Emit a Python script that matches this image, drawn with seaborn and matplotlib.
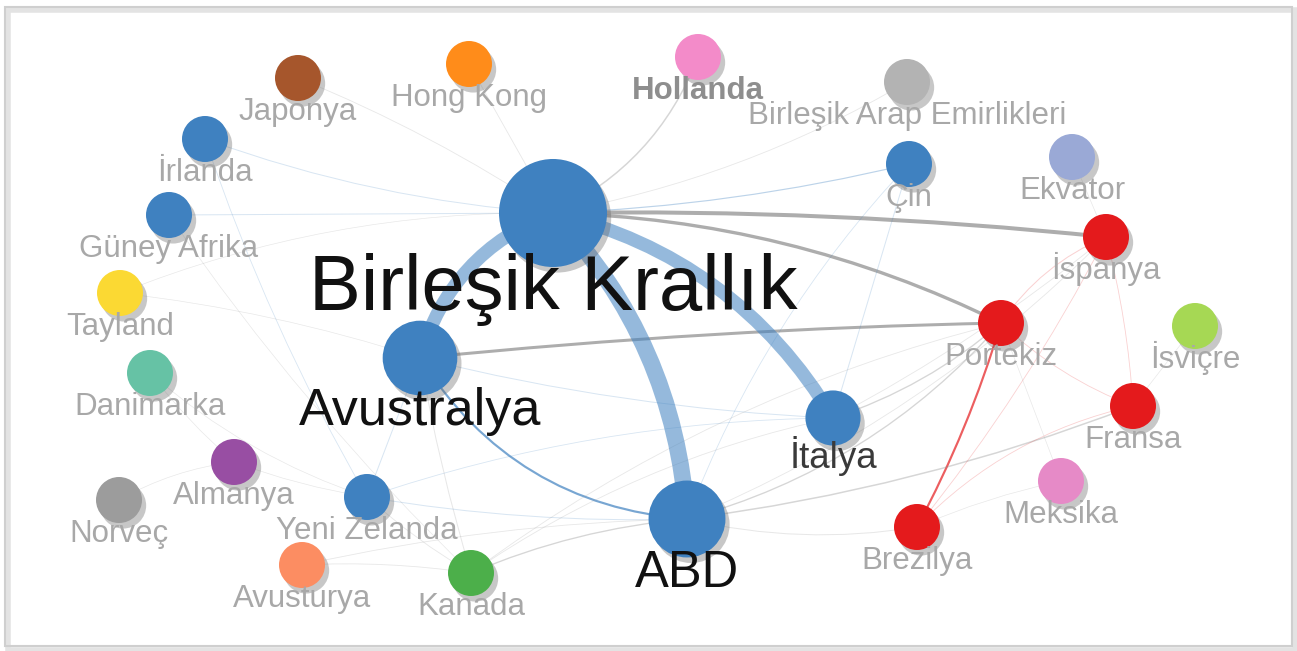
import matplotlib
matplotlib.use("Agg")
import matplotlib.pyplot as plt
import matplotlib.patheffects as pe
from matplotlib.patches import FancyArrowPatch, Rectangle
import numpy as np
import pandas as pd
import seaborn as sns

# ---------------- data ----------------
nodes = ["Birleşik Krallık", "Avustralya", "ABD", "İtalya", "Yeni Zelanda", "Kanada",
         "Avusturya", "Norveç", "Almanya", "Danimarka", "Tayland", "Güney Afrika",
         "İrlanda", "Japonya", "Hong Kong", "Hollanda", "Birleşik Arap Emirlikleri",
         "Çin", "Ekvator", "İspanya", "Portekiz", "İsviçre", "Fransa", "Meksika", "Brezilya"]
layout_x = [553, 420, 687, 833, 367, 471, 302, 119, 234, 150, 120, 169, 205, 298, 469,
            698, 907, 909, 1072, 1106, 1001, 1195, 1133, 1061, 917]
layout_y = [213, 358, 519, 418, 497, 573, 565, 500, 462, 373, 293, 215, 139, 78, 64,
            57, 82, 164, 157, 237, 323, 326, 406, 481, 527]
node_value = [100, 47, 50, 25, 17, 17, 17, 17, 17, 17, 17, 17, 17, 17, 17,
              17, 17, 17, 17, 17, 17, 17, 17, 17, 17]
node_color = ["#3f81c0", "#3f81c0", "#3f81c0", "#3f81c0", "#3f81c0", "#4caf4a",
              "#fc8d62", "#9c9c9c", "#984ea3", "#66c2a5", "#fbd933", "#3f81c0",
              "#3f81c0", "#a6562c", "#ff8c1a", "#f38bc9", "#b3b3b3", "#3f81c0",
              "#9aa9d6", "#e41a1c", "#e41a1c", "#a6d854", "#e41a1c", "#e68ac7", "#e41a1c"]

edge_source = ["Birleşik Krallık", "Birleşik Krallık", "Avustralya", "Birleşik Krallık",
               "Birleşik Krallık", "Avustralya", "Avustralya", "Brezilya",
               "Birleşik Krallık", "Birleşik Krallık", "Birleşik Krallık", "İrlanda",
               "Güney Afrika", "Birleşik Krallık", "Birleşik Krallık", "Birleşik Krallık",
               "Çin", "Çin", "Avustralya", "Avustralya", "Avustralya", "Yeni Zelanda",
               "Yeni Zelanda", "Yeni Zelanda", "Kanada", "Kanada", "Kanada", "Avusturya",
               "Avusturya", "İrlanda", "Güney Afrika", "Tayland", "Danimarka", "Norveç",
               "Almanya", "Danimarka", "ABD", "ABD", "İtalya", "İtalya", "ABD", "ABD",
               "Portekiz", "Portekiz", "İspanya", "Brezilya", "Brezilya", "Ekvator",
               "İsviçre", "Meksika", "Meksika"]
edge_target = ["ABD", "İtalya", "Birleşik Krallık", "İspanya",
               "Portekiz", "Portekiz", "ABD", "Portekiz",
               "Hollanda", "Japonya", "Hong Kong", "Birleşik Krallık",
               "Birleşik Krallık", "Birleşik Arap Emirlikleri", "Çin", "Tayland",
               "İtalya", "ABD", "Yeni Zelanda", "Kanada", "İtalya", "Kanada",
               "ABD", "İtalya", "ABD", "İtalya", "Portekiz", "Kanada",
               "ABD", "Yeni Zelanda", "Kanada", "Avustralya", "Almanya", "Almanya",
               "Yeni Zelanda", "Yeni Zelanda", "Portekiz", "Fransa", "Portekiz", "İspanya",
               "İspanya", "Brezilya", "İspanya", "Fransa", "Fransa", "Fransa", "İspanya",
               "İspanya", "Fransa", "Portekiz", "Brezilya"]
edge_weight = [10, 8, 8, 2.4, 2.0, 1.8, 1.3, 1.3, 0.9, 0.5, 0.5, 0.6, 0.6, 0.5, 0.7, 0.4,
               0.6, 0.5, 0.6, 0.6, 0.6, 0.5, 0.6, 0.5, 0.8, 0.5, 0.5, 0.5, 0.5, 0.5, 0.4,
               0.4, 0.4, 0.4, 0.4, 0.4, 0.8, 0.9, 0.8, 0.5, 0.5, 0.6, 0.6, 0.5, 0.5, 0.5,
               0.5, 0.4, 0.4, 0.4, 0.4]

# ---------------- style ----------------
edge_bend = [-0.18, -0.21, -0.25, -0.03, -0.11, -0.02, 0.25, 0.05, 0.2, 0.05, 0.0, 0.07,
             0.0, 0.09, 0.05, 0.1, 0.0, 0.1, 0.0, 0.03, 0.05, 0.05, 0.05, -0.08, -0.08,
             -0.1, -0.1, -0.05, -0.05, 0.05, 0.05, -0.05, 0.05, -0.1, 0.05, 0.1, 0.15,
             0.06, 0.1, 0.05, 0.1, 0.1, -0.15, 0.1, -0.05, -0.15, 0.05, 0.0, 0.0, 0.0, 0.05]

label_size = {"Birleşik Krallık": 56, "Avustralya": 37.5, "ABD": 36.5, "İtalya": 26.5}
label_color = {"Birleşik Krallık": "#111111", "Avustralya": "#111111", "ABD": "#111111",
               "İtalya": "#3a3a3a", "Hollanda": "#8e8e8e"}
small_label_size = 22.5
small_label_color = "#a8a8a8"

W, H, DPI = 1297, 651, 100
S_MIN, S_MAX = 1097, 6050

sns.set_theme(style="white")
plt.rcParams["font.family"] = ["Liberation Sans", "DejaVu Sans"]

df = pd.DataFrame({"name": nodes, "x": layout_x, "y": layout_y,
                   "value": node_value, "color": node_color})
pos = {n: (x, y) for n, x, y in zip(nodes, layout_x, layout_y)}
col = dict(zip(nodes, node_color))

fig = plt.figure(figsize=(W / DPI, H / DPI), dpi=DPI)
fig.patch.set_facecolor("white")
ax = fig.add_axes([0, 0, 1, 1])
ax.set_xlim(0, W)
ax.set_ylim(H, 0)
ax.axis("off")

# frame with soft shadow
ax.add_patch(Rectangle((8, 10), 1287, 640, fill=False, ec="#e3e3e3", lw=4, zorder=0))
ax.add_patch(Rectangle((5, 7), 1287, 639, fill=False, ec="#cfcfcf", lw=1.5, zorder=0.5))

# edges
for s, t, w, rad in zip(edge_source, edge_target, edge_weight, edge_bend):
    c = col[s] if col[s] == col[t] else "#8a8a8a"
    if w >= 5:
        a = 0.55
    elif w >= 1.2:
        a = 0.7
    elif w >= 0.7:
        a = 0.35
    else:
        a = 0.2
    patch = FancyArrowPatch(pos[s], pos[t], arrowstyle="-",
                            connectionstyle=f"arc3,rad={rad}",
                            shrinkA=0, shrinkB=0, lw=1.2 * w, color=c, alpha=a,
                            zorder=1 if w < 5 else 2, capstyle="round")
    ax.add_patch(patch)

# nodes
sns.scatterplot(data=df, x="x", y="y", hue="name", palette=col,
                size="value", sizes=(S_MIN, S_MAX), size_norm=(17, 100),
                legend=False, ax=ax, linewidth=0, edgecolor="none", zorder=3)
for coll in ax.collections:
    coll.set_path_effects([pe.SimplePatchShadow(offset=(3, -4), shadow_rgbFace="#606060",
                                                alpha=0.35), pe.Normal()])
ax.set_xlim(0, W)
ax.set_ylim(H, 0)
ax.axis("off")

# labels
for n, x, y, v in zip(nodes, layout_x, layout_y, node_value):
    s_pts = S_MIN + (v - 17) / (100 - 17) * (S_MAX - S_MIN)
    r_px = np.sqrt(s_pts) / 0.72 / 2
    fs = label_size.get(n, small_label_size)
    c = label_color.get(n, small_label_color)
    fw = "bold" if n == "Hollanda" else "normal"
    ax.text(x, y + r_px + 0.52 * fs / 0.72 + 3, n, ha="center", va="baseline",
            fontsize=fs, color=c, fontweight=fw, zorder=5)

fig.savefig("out.png", dpi=DPI, facecolor="white")
